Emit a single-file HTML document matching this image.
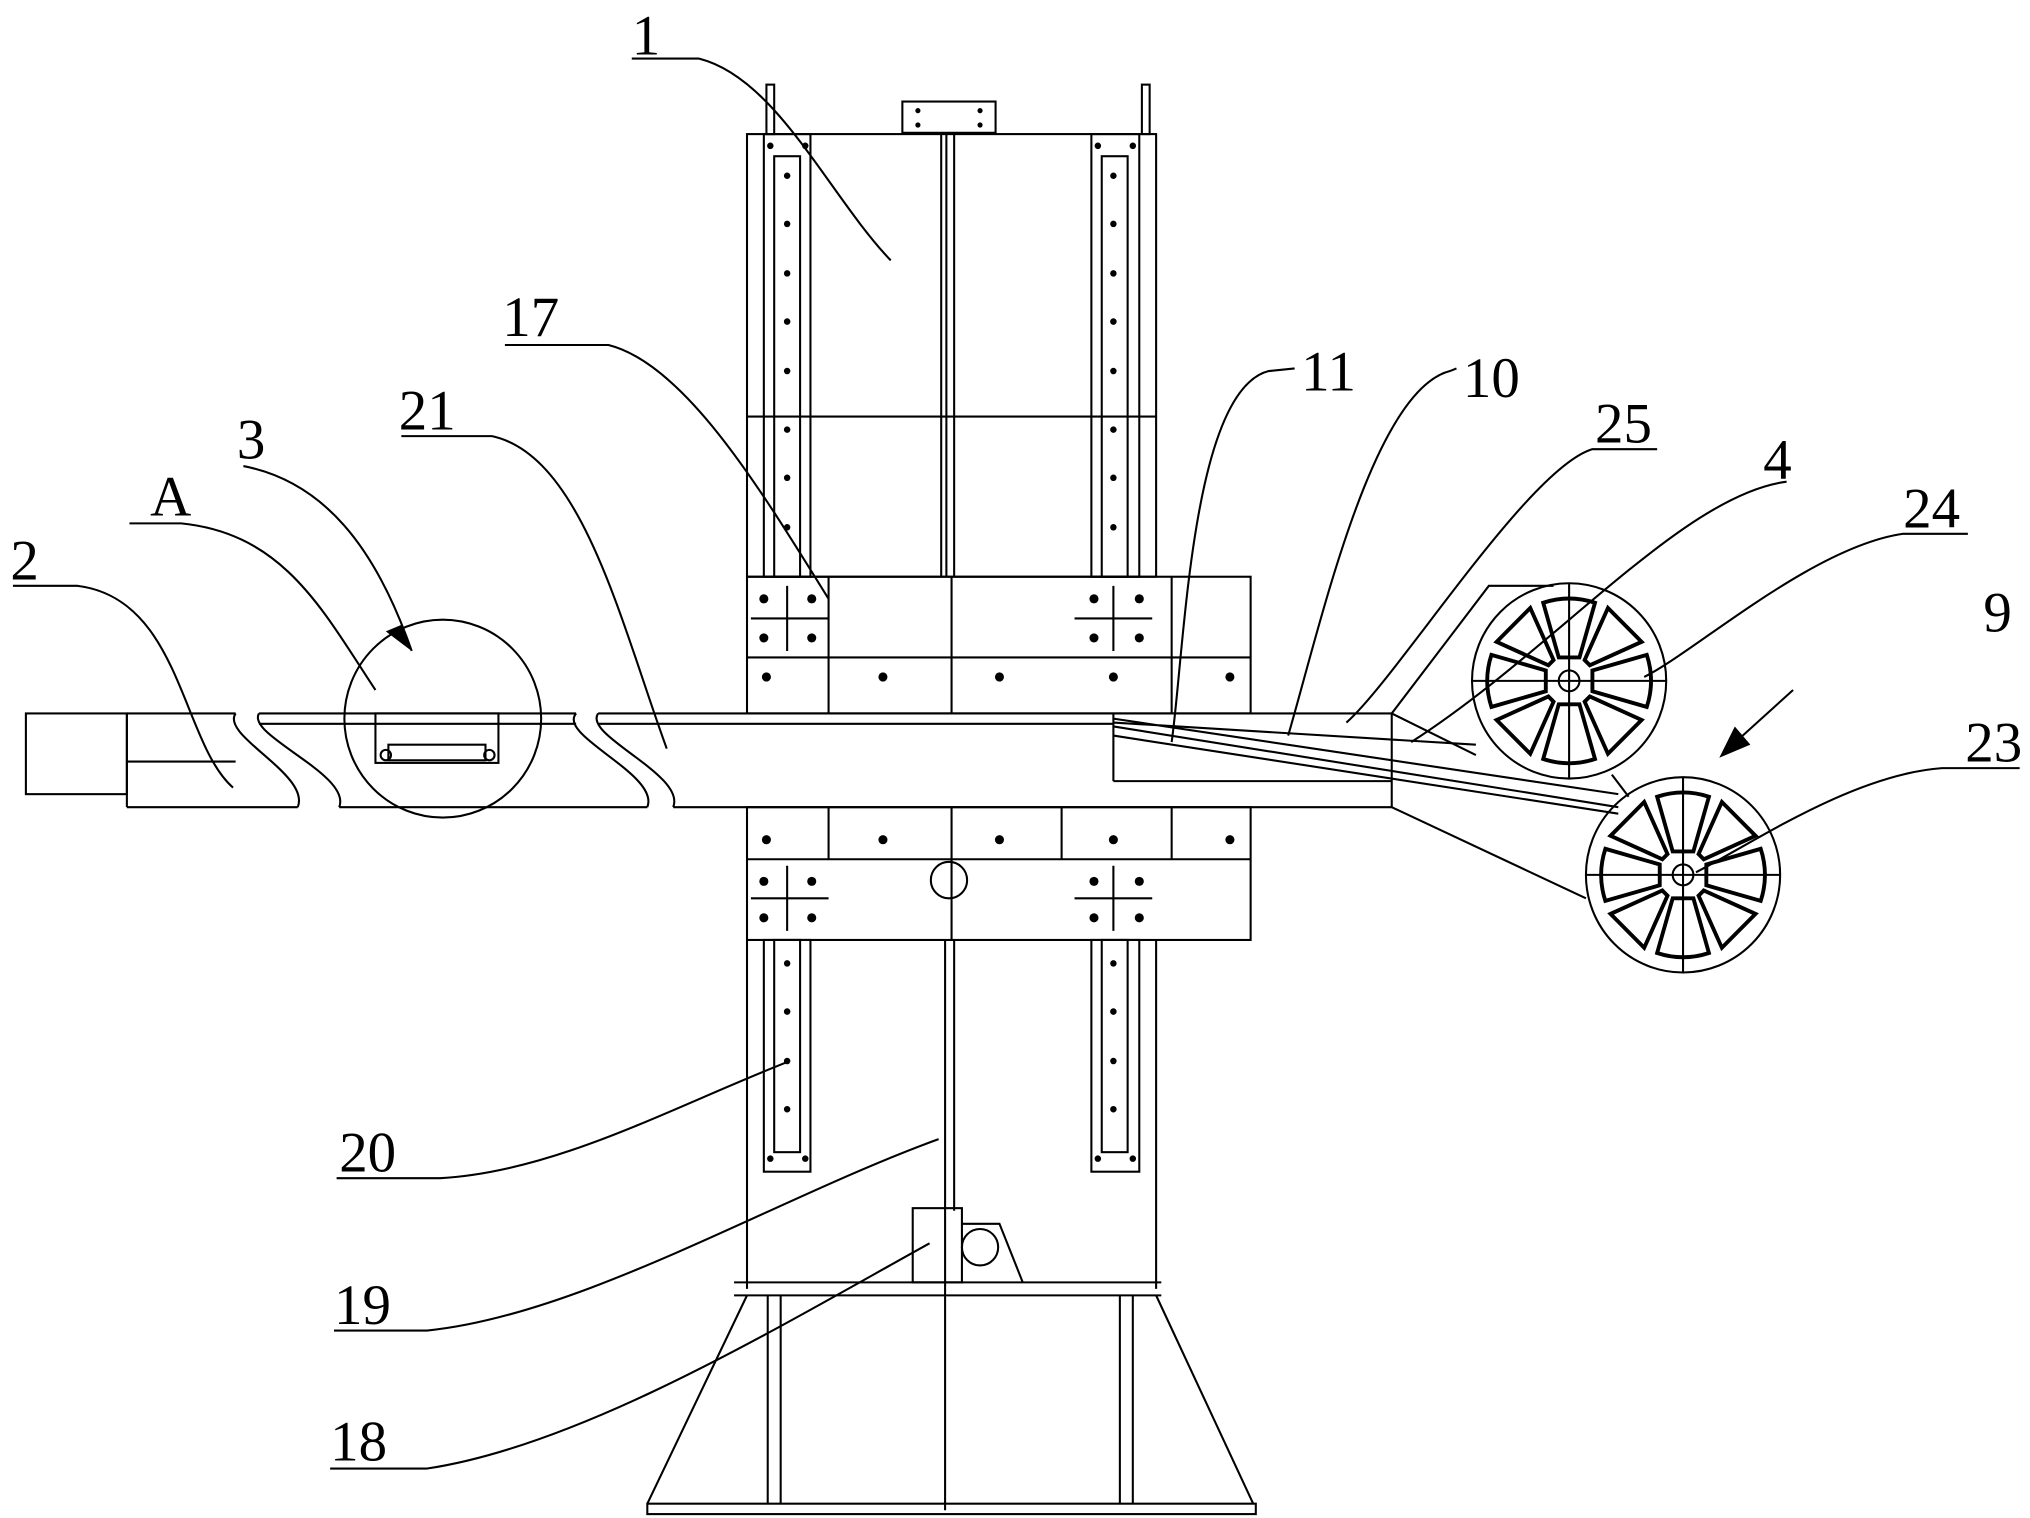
<!DOCTYPE html>
<html><head><meta charset="utf-8"><style>
html,body{margin:0;padding:0;background:#fff;}
svg{display:block;}
text{font-family:"Liberation Serif",serif;font-size:44px;fill:#000;}
</style></head><body>
<svg width="2030" height="1518" viewBox="0 0 1568 1166" preserveAspectRatio="none" xmlns="http://www.w3.org/2000/svg">
<g fill="none" stroke="#000" stroke-width="1.6">
<rect x="592" y="65" width="6" height="38"/><rect x="882" y="65" width="6" height="38"/>
<rect x="697" y="78" width="72" height="24"/>
<rect x="577" y="103" width="316" height="340"/>
<line x1="577" y1="320" x2="893" y2="320"/>
<line x1="727" y1="103" x2="727" y2="443"/><line x1="737" y1="103" x2="737" y2="443"/>
<line x1="731" y1="103" x2="731" y2="443"/>
<rect x="590" y="103" width="36" height="340"/><rect x="598" y="120" width="20" height="323"/>
<rect x="843" y="103" width="37" height="340"/><rect x="851" y="120" width="20" height="323"/>
<rect x="577" y="443" width="389" height="105"/>
<line x1="577" y1="505" x2="966" y2="505"/>
<line x1="735" y1="443" x2="735" y2="548"/>
<line x1="640" y1="443" x2="640" y2="548"/>
<line x1="905" y1="443" x2="905" y2="548"/>
<line x1="830" y1="475" x2="890" y2="475"/><line x1="860" y1="450" x2="860" y2="500"/>
<line x1="580" y1="475" x2="640" y2="475"/><line x1="608" y1="450" x2="608" y2="500"/>
<rect x="577" y="620" width="389" height="102"/>
<line x1="577" y1="660" x2="966" y2="660"/>
<line x1="640" y1="620" x2="640" y2="660"/>
<line x1="820" y1="620" x2="820" y2="660"/>
<line x1="905" y1="620" x2="905" y2="660"/>
<line x1="735" y1="620" x2="735" y2="722"/>
<line x1="580" y1="690" x2="640" y2="690"/><line x1="608" y1="665" x2="608" y2="715"/>
<line x1="830" y1="690" x2="890" y2="690"/><line x1="860" y1="665" x2="860" y2="715"/>
<circle cx="733" cy="676" r="14"/>
<rect x="590" y="722" width="36" height="178"/><rect x="598" y="722" width="20" height="163"/>
<rect x="843" y="722" width="37" height="178"/><rect x="851" y="722" width="20" height="163"/>
<line x1="577" y1="722" x2="577" y2="990"/><line x1="893" y1="722" x2="893" y2="990"/>
<line x1="730" y1="722" x2="730" y2="1160"/><line x1="737" y1="722" x2="737" y2="930"/>
<rect x="705" y="928" width="38" height="57"/>
<circle cx="757" cy="958" r="14"/>
<path d="M743 940 L772 940 L790 985"/>
<line x1="567" y1="985" x2="897" y2="985"/><line x1="567" y1="995" x2="897" y2="995"/>
<path d="M577 995 L500 1155 M893 995 L968 1155"/>
<line x1="593" y1="995" x2="593" y2="1155"/><line x1="603" y1="995" x2="603" y2="1155"/>
<line x1="865" y1="995" x2="865" y2="1155"/><line x1="875" y1="995" x2="875" y2="1155"/>
<rect x="500" y="1155" width="470" height="8"/>
<rect x="20" y="548" width="78" height="62"/>
<path d="M98 548 L182 548 M98 620 L230 620 M98 548 L98 620"/>
<line x1="98" y1="585" x2="182" y2="585"/>
<path d="M182 548 C170 565 240 595 230 620"/>
<path d="M200 548 C190 565 272 595 262 620"/>
<path d="M200 548 L445 548 M262 620 L500 620 M200 556 L445 556"/>
<path d="M445 548 C430 565 510 595 500 620"/>
<path d="M462 548 C450 565 530 595 520 620"/>
<path d="M462 548 L1075 548 M520 620 L1075 620 M462 556 L860 556"/>
<line x1="860" y1="548" x2="860" y2="600"/><line x1="860" y1="600" x2="1075" y2="600"/>
<line x1="1075" y1="548" x2="1075" y2="620"/>
<path d="M1075 548 L1150 450 L1200 450 M1075 620 L1225 690 M1075 548 L1140 580"/>
<path d="M860 555 L1140 572 M860 552 L1250 610 M860 558 L1250 620 M860 565 L1250 625"/>
<circle cx="342" cy="552" r="76"/>
<rect x="290" y="548" width="95" height="38"/><rect x="300" y="572" width="75" height="12"/>
<circle cx="298" cy="580" r="4"/><circle cx="378" cy="580" r="4"/>
<g transform="translate(1212,523)">
<circle r="75"/><circle r="8"/><line x1="-75" y1="0" x2="75" y2="0"/><line x1="0" y1="-75" x2="0" y2="75"/>
<g stroke-width="3"><path d="M-20 -60 A64 64 0 0 1 20 -60 L8 -18 L-8 -18 Z"/>
<path d="M-20 60 A64 64 0 0 0 20 60 L8 18 L-8 18 Z"/>
<path d="M-60 -20 A64 64 0 0 0 -60 20 L-18 8 L-18 -8 Z"/>
<path d="M60 -20 A64 64 0 0 1 60 20 L18 8 L18 -8 Z"/>
<path d="M-56 -30 L-30 -56 L-12 -16 L-16 -12 Z"/><path d="M56 -30 L30 -56 L12 -16 L16 -12 Z"/>
<path d="M-56 30 L-30 56 L-12 16 L-16 12 Z"/><path d="M56 30 L30 56 L12 16 L16 12 Z"/></g>
</g>
<g transform="translate(1300,672)">
<circle r="75"/><circle r="8"/><line x1="-75" y1="0" x2="75" y2="0"/><line x1="0" y1="-75" x2="0" y2="75"/>
<g stroke-width="3"><path d="M-20 -60 A64 64 0 0 1 20 -60 L8 -18 L-8 -18 Z"/>
<path d="M-20 60 A64 64 0 0 0 20 60 L8 18 L-8 18 Z"/>
<path d="M-60 -20 A64 64 0 0 0 -60 20 L-18 8 L-18 -8 Z"/>
<path d="M60 -20 A64 64 0 0 1 60 20 L18 8 L18 -8 Z"/>
<path d="M-56 -30 L-30 -56 L-12 -16 L-16 -12 Z"/><path d="M56 -30 L30 -56 L12 -16 L16 -12 Z"/>
<path d="M-56 30 L-30 56 L-12 16 L-16 12 Z"/><path d="M56 30 L30 56 L12 16 L16 12 Z"/></g>
</g>
<line x1="1245" y1="595" x2="1258" y2="612"/>
<path d="M488 45 L540 45 C600 60 640 150 688 200"/>
<path d="M390 265 L470 265 C530 280 590 380 640 460"/>
<path d="M310 335 L380 335 C450 350 480 480 515 575"/>
<path d="M188 358 C250 370 290 420 318 500"/>
<path d="M100 402 L140 402 C220 410 250 470 290 530"/>
<path d="M10 450 L60 450 C140 460 140 570 180 605"/>
<path d="M1000 283 L980 285 C920 300 915 500 905 570"/>
<path d="M1125 283 L1120 285 C1060 300 1020 480 995 565"/>
<path d="M1280 345 L1230 345 C1180 360 1080 520 1040 555"/>
<path d="M1380 370 C1300 380 1200 500 1090 570"/>
<path d="M1520 410 L1470 410 C1400 420 1310 500 1270 520"/>
<path d="M1560 590 L1500 590 C1430 595 1350 650 1310 670"/>
<path d="M260 905 L340 905 C430 900 520 850 610 815"/>
<path d="M258 1022 L330 1022 C450 1010 600 920 725 875"/>
<path d="M255 1128 L330 1128 C450 1110 600 1020 718 955"/>
<path d="M1385 530 L1345 566"/>
</g>
<polygon points="318,500 298,485 310,480" fill="#000"/>
<polygon points="1328,582 1340,558 1352,572" fill="#000"/>
<g fill="#000">
<circle cx="709" cy="85" r="2"/><circle cx="757" cy="85" r="2"/><circle cx="709" cy="96" r="2"/><circle cx="757" cy="96" r="2"/>
<circle cx="595" cy="112" r="2.5"/><circle cx="622" cy="112" r="2.5"/><circle cx="848" cy="112" r="2.5"/><circle cx="875" cy="112" r="2.5"/>
<circle cx="608" cy="135" r="2.5"/><circle cx="608" cy="172" r="2.5"/><circle cx="608" cy="210" r="2.5"/><circle cx="608" cy="247" r="2.5"/><circle cx="608" cy="285" r="2.5"/><circle cx="608" cy="330" r="2.5"/><circle cx="608" cy="367" r="2.5"/><circle cx="608" cy="405" r="2.5"/>
<circle cx="860" cy="135" r="2.5"/><circle cx="860" cy="172" r="2.5"/><circle cx="860" cy="210" r="2.5"/><circle cx="860" cy="247" r="2.5"/><circle cx="860" cy="285" r="2.5"/><circle cx="860" cy="330" r="2.5"/><circle cx="860" cy="367" r="2.5"/><circle cx="860" cy="405" r="2.5"/>
<circle cx="590" cy="460" r="3.5"/><circle cx="627" cy="460" r="3.5"/><circle cx="590" cy="490" r="3.5"/><circle cx="627" cy="490" r="3.5"/>
<circle cx="845" cy="460" r="3.5"/><circle cx="880" cy="460" r="3.5"/><circle cx="845" cy="490" r="3.5"/><circle cx="880" cy="490" r="3.5"/>
<circle cx="592" cy="520" r="3.5"/><circle cx="682" cy="520" r="3.5"/><circle cx="772" cy="520" r="3.5"/><circle cx="860" cy="520" r="3.5"/><circle cx="950" cy="520" r="3.5"/>
<circle cx="592" cy="645" r="3.5"/><circle cx="682" cy="645" r="3.5"/><circle cx="772" cy="645" r="3.5"/><circle cx="860" cy="645" r="3.5"/><circle cx="950" cy="645" r="3.5"/>
<circle cx="590" cy="677" r="3.5"/><circle cx="627" cy="677" r="3.5"/><circle cx="590" cy="705" r="3.5"/><circle cx="627" cy="705" r="3.5"/>
<circle cx="845" cy="677" r="3.5"/><circle cx="880" cy="677" r="3.5"/><circle cx="845" cy="705" r="3.5"/><circle cx="880" cy="705" r="3.5"/>
<circle cx="608" cy="740" r="2.5"/><circle cx="608" cy="777" r="2.5"/><circle cx="608" cy="815" r="2.5"/><circle cx="608" cy="852" r="2.5"/>
<circle cx="860" cy="740" r="2.5"/><circle cx="860" cy="777" r="2.5"/><circle cx="860" cy="815" r="2.5"/><circle cx="860" cy="852" r="2.5"/>
<circle cx="595" cy="890" r="2.5"/><circle cx="622" cy="890" r="2.5"/><circle cx="848" cy="890" r="2.5"/><circle cx="875" cy="890" r="2.5"/>
<text x="488" y="42">1</text><text x="388" y="258">17</text><text x="308" y="330">21</text>
<text x="183" y="352">3</text><text x="116" y="396" font-size="36">A</text><text x="8" y="445">2</text>
<text x="1005" y="300">11</text><text x="1130" y="305">10</text><text x="1232" y="340">25</text>
<text x="1362" y="368">4</text><text x="1470" y="405">24</text><text x="1532" y="485">9</text>
<text x="1518" y="585">23</text><text x="262" y="900">20</text><text x="258" y="1017">19</text>
<text x="255" y="1122">18</text>
</g>
</svg>
</body></html>
